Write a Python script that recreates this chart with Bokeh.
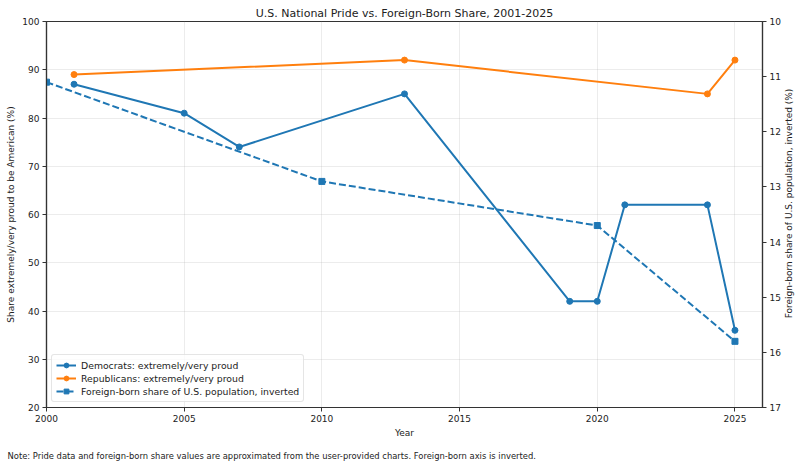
import math
from bokeh.plotting import figure
from bokeh.models import Range1d, LinearAxis, FixedTicker, Title, Label
from bokeh.embed import file_html
from bokeh.resources import INLINE

# Share extremely/very proud to be American (%)
dem_years = [2001, 2005, 2007, 2013, 2019, 2020, 2021, 2024, 2025]
dem_pride = [87, 81, 74, 85, 42, 42, 62, 62, 36]
rep_years = [2001, 2013, 2024, 2025]
rep_pride = [89, 92, 85, 92]

# Foreign-born share of U.S. population (%), plotted on an inverted axis
fb_years = [2000, 2010, 2020, 2025]
fb_share = [11.1, 12.9, 13.7, 15.8]

x_ticks = [2000, 2005, 2010, 2015, 2020, 2025]
left_ticks = [20, 30, 40, 50, 60, 70, 80, 90, 100]
right_ticks = [10, 11, 12, 13, 14, 15, 16, 17]

BLUE = "#1f77b4"
ORANGE = "#ff7f0e"
FONT = "DejaVu Sans"
TEXT = "#222222"
SPINE = "#333333"

p = figure(width=800, height=469, output_backend="svg", toolbar_location=None,
           x_range=Range1d(2000, 2026), y_range=Range1d(20, 100),
           min_border_left=46, min_border_right=38, min_border_top=21, min_border_bottom=62,
           title="U.S. National Pride vs. Foreign-Born Share, 2001-2025")
p.extra_y_ranges = {"fb": Range1d(start=17, end=10)}

p.title.align = "center"
p.title.text_font = FONT
p.title.text_font_size = "11px"
p.title.text_font_style = "normal"
p.title.text_color = TEXT
p.title.offset = 0
p.title.standoff = 4

p.outline_line_color = SPINE
p.outline_line_width = 1.2
p.background_fill_color = "white"
p.border_fill_color = "white"

for g in (p.xgrid, p.ygrid):
    g.grid_line_color = "#b0b0b0"
    g.grid_line_alpha = 0.3
    g.grid_line_width = 0.8
p.xgrid.ticker = FixedTicker(ticks=x_ticks)
p.ygrid.ticker = FixedTicker(ticks=left_ticks)

right_axis = LinearAxis(y_range_name="fb", ticker=FixedTicker(ticks=right_ticks))
p.add_layout(right_axis, "right")

for ax in (p.xaxis[0], p.yaxis[0], right_axis):
    ax.axis_line_color = SPINE
    ax.axis_line_width = 1.2
    ax.major_tick_line_color = SPINE
    ax.major_tick_out = 4
    ax.major_tick_in = 0
    ax.minor_tick_out = 0
    ax.minor_tick_in = 0
    ax.major_label_standoff = 3
    ax.major_label_text_font = FONT
    ax.major_label_text_font_size = "9px"
    ax.major_label_text_color = TEXT
    ax.axis_label_text_font = FONT
    ax.axis_label_text_font_size = "9px"
    ax.axis_label_text_font_style = "normal"
    ax.axis_label_text_color = TEXT
    ax.axis_label_standoff = 3

p.xaxis[0].ticker = FixedTicker(ticks=x_ticks)
p.yaxis[0].ticker = FixedTicker(ticks=left_ticks)
p.xaxis[0].axis_label = "Year"
p.yaxis[0].axis_label = "Share extremely/very proud to be American (%)"

# Series
dem_label = "Democrats: extremely/very proud"
rep_label = "Republicans: extremely/very proud"
fb_label = "Foreign-born share of U.S. population, inverted"

p.line(dem_years, dem_pride, line_color=BLUE, line_width=2, legend_label=dem_label)
p.scatter(dem_years, dem_pride, marker="circle", size=6, fill_color=BLUE, line_color=BLUE,
          legend_label=dem_label)

p.line(rep_years, rep_pride, line_color=ORANGE, line_width=2, legend_label=rep_label)
p.scatter(rep_years, rep_pride, marker="circle", size=6, fill_color=ORANGE, line_color=ORANGE,
          legend_label=rep_label)

p.line(fb_years, fb_share, line_color=BLUE, line_width=2, line_dash="7 3",
       y_range_name="fb", legend_label=fb_label)
p.scatter(fb_years, fb_share, marker="square", size=6, fill_color=BLUE, line_color=BLUE,
          y_range_name="fb", legend_label=fb_label)

lg = p.legend[0]
lg.location = "bottom_left"
lg.margin = 5
lg.padding = 4
lg.spacing = 1
lg.label_height = 12
lg.glyph_height = 12
lg.glyph_width = 20
lg.label_standoff = 5
lg.label_text_font = FONT
lg.label_text_font_size = "9.3px"
lg.label_text_color = TEXT
lg.border_line_color = "#cccccc"
lg.border_line_width = 1
lg.border_radius = 3
lg.background_fill_color = "white"
lg.background_fill_alpha = 0.8

# Right-hand axis title, reading bottom to top, placed in the right border panel
p.add_layout(Label(x=5, y=204, x_units="screen", y_units="screen", angle=math.pi / 2,
                   text="Foreign-born share of U.S. population, inverted (%)",
                   text_font=FONT, text_font_size="9px", text_color=TEXT,
                   text_align="center", text_baseline="middle"), "right")

# Footnote below the chart
note = Title(text="Note: Pride data and foreign-born share values are approximated from the "
                  "user-provided charts. Foreign-born axis is inverted.",
             align="left", offset=-39, standoff=17,
             text_font=FONT, text_font_size="8.4px", text_font_style="normal", text_color=TEXT)
p.add_layout(note, "below")

open("out.html", "w").write(file_html(p, INLINE))
